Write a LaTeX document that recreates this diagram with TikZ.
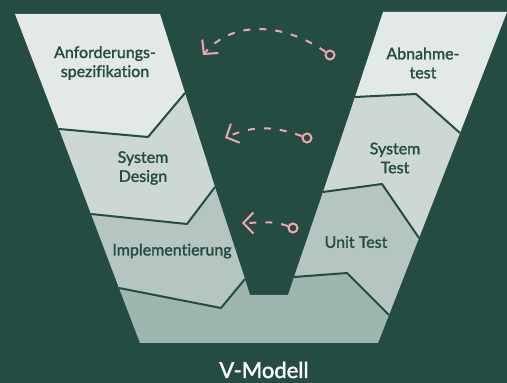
\documentclass[tikz,border=0pt]{standalone}
\usepackage{fontspec}
\setmainfont[FakeBold=1.6, Ligatures=CommonOff]{Lato}
\usepackage{tikz}
\usetikzlibrary{arrows.meta, positioning, calc}

\definecolor{vgruen}{HTML}{244C42}
\definecolor{stufeA}{HTML}{E3E9E6}
\definecolor{stufeB}{HTML}{CDD8D5}
\definecolor{stufeC}{HTML}{B5C5C2}
\definecolor{stufeD}{HTML}{9FB5AF}
\definecolor{rosa}{HTML}{F4A3B1}

\begin{document}
\begin{tikzpicture}[x=1pt, y=1pt, every node/.style={draw=none, inner sep=2pt},
        stufe/.style={text=vgruen, align=center, font=\fontsize{16}{19}\selectfont},
        titel/.style={text=white, font=\fontsize{22}{26}\selectfont},
        trenner/.style={draw=vgruen, line width=2pt, line join=round},
        ring/.style={circle, draw=rosa, line width=2pt, minimum size=9pt, inner sep=0pt},
        pfeil/.style={draw=rosa, line width=2pt, dash pattern=on 7pt off 9pt,
            -{Straight Barb[length=10pt, width=21pt]}}]
        % Hintergrund
        \fill[vgruen] (0,0) rectangle (507,383);
        \useasboundingbox (0,0) rectangle (507,383);

        % Eckpunkte linker Schenkel
        \coordinate (lo1) at (15,369);
        \coordinate (li1) at (160,369);
        \coordinate (li2) at (185,290);
        \coordinate (lk1) at (148,246);
        \coordinate (lo2) at (59,254);
        \coordinate (li3) at (215,196);
        \coordinate (lk2) at (187,159);
        \coordinate (lo3) at (91,169);
        \coordinate (li4) at (245,104);
        \coordinate (lk3) at (221,75);
        \coordinate (lo4) at (119,95);
        \coordinate (mi1) at (250,88);
        \coordinate (mi2) at (288,88);

        % Eckpunkte rechter Schenkel
        \coordinate (ri1) at (383,371);
        \coordinate (ro1) at (507,371);
        \coordinate (ri2) at (355,286);
        \coordinate (rk1) at (416,289);
        \coordinate (ro2) at (460,250);
        \coordinate (ri3) at (323,191);
        \coordinate (rk2) at (382,199);
        \coordinate (ro3) at (419,145);
        \coordinate (ri4) at (294,106);
        \coordinate (rk3) at (347,110);
        \coordinate (ro4) at (389,68);
        \coordinate (ur) at (378,40);
        \coordinate (ul) at (140,40);

        % Stufen
        \fill[stufeD] (lo4) -- (lk3) -- (li4) -- (mi1) -- (mi2) -- (ri4) -- (rk3) -- (ro4) -- (ur) -- (ul) -- cycle;
        \fill[stufeC] (lo3) -- (lk2) -- (li3) -- (li4) -- (lk3) -- (lo4) -- cycle;
        \fill[stufeB] (lo2) -- (lk1) -- (li2) -- (li3) -- (lk2) -- (lo3) -- cycle;
        \fill[stufeA] (lo1) -- (li1) -- (li2) -- (lk1) -- (lo2) -- cycle;
        \fill[stufeA] (ri1) -- (ro1) -- (ro2) -- (rk1) -- (ri2) -- cycle;
        \fill[stufeB] (ri2) -- (rk1) -- (ro2) -- (ro3) -- (rk2) -- (ri3) -- cycle;
        \fill[stufeC] (ri3) -- (rk2) -- (ro3) -- (ro4) -- (rk3) -- (ri4) -- cycle;

        % Trennlinien
        \draw[trenner] (lo2) -- (lk1) -- (li2);
        \draw[trenner] (lo3) -- (lk2) -- (li3);
        \draw[trenner] (lo4) -- (lk3) -- (li4);
        \draw[trenner] (ri2) -- (rk1) -- (ro2);
        \draw[trenner] (ri3) -- (rk2) -- (ro3);
        \draw[trenner] (ri4) -- (rk3) -- (ro4);

        % Beschriftungen
        \node[stufe] (anf) at (105,320) {Anforderungs-\\spezifikation};
        \node[stufe] (sysd) at (143,215) {System\\Design};
        \node[stufe] (impl) at (172,132) {Implementierung};
        \node[stufe] (abn) at (423,320) {Abnahme-\\test};
        \node[stufe] (syst) at (395,225) {System\\Test};
        \node[stufe] (unit) at (356,141) {Unit Test};
        \node[titel, anchor=base] (modell) at (264,5) {V-Modell};

        % Pfeile
        \node[ring] (o1) at (330,328) {};
        \coordinate (p1) at (203,328);
        \draw[pfeil] (o1) to[out=145, in=50] (p1);

        \node[ring] (o2) at (307,245) {};
        \coordinate (p2) at (225,245);
        \draw[pfeil] (o2) to[out=160, in=25] (p2);

        \node[ring] (o3) at (293,155) {};
        \coordinate (p3) at (242,160);
        \draw[pfeil] (o3) to[out=160, in=0] (p3);
\end{tikzpicture}
\end{document}
